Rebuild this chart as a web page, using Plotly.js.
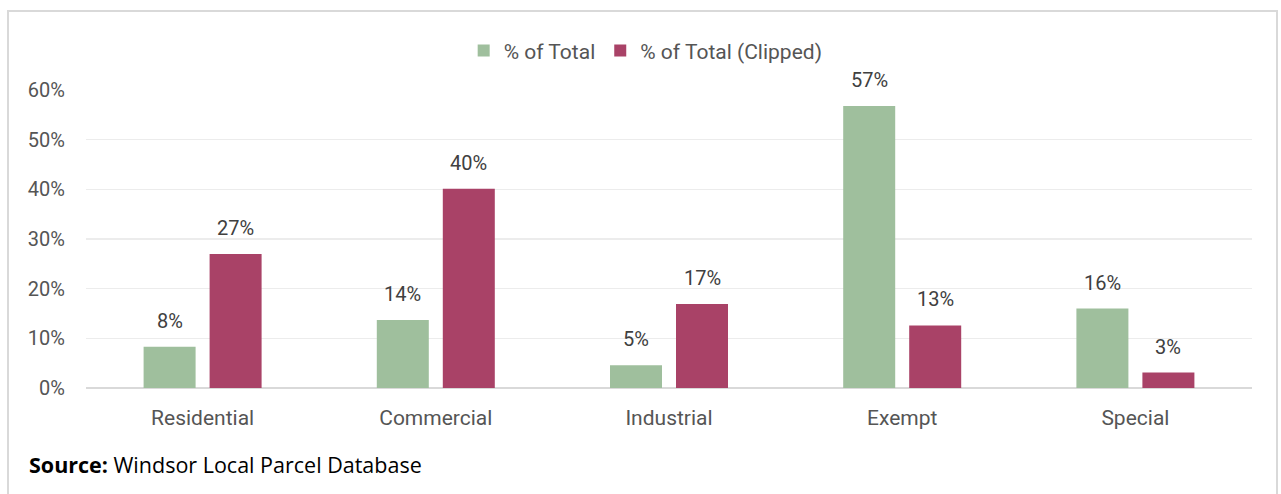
<!DOCTYPE html>
<html>
<head>
<meta charset="utf-8">
<script src="https://cdn.plot.ly/plotly-3.0.1.min.js"></script>
<style>
  html, body { margin: 0; padding: 0; background: #ffffff; }
  #wrap { position: relative; width: 1281px; height: 494px; overflow: hidden; }
  #frame { position: absolute; left: 7px; top: 10px; width: 1271px; height: 500px;
           border: 2px solid #d9d9d9; box-sizing: border-box; pointer-events: none; }
  #chart { position: absolute; left: 0; top: 0; width: 1281px; height: 494px; }
</style>
</head>
<body>
<div id="wrap">
  <div id="frame"></div>
  <div id="chart"></div>
</div>
<script>
// Parcel share by land-use class, in percent
const categories = ['Residential', 'Commercial', 'Industrial', 'Exempt', 'Special'];
const shareTotal = [8.3, 13.7, 4.6, 56.8, 16.0];
const shareClipped = [27.0, 40.1, 16.9, 12.6, 3.1];
const seriesNames = ['% of Total', '% of Total (Clipped)'];
const yTicks = [0, 10, 20, 30, 40, 50, 60];
const yTickText = ['0%', '10%', '20%', '30%', '40%', '50%', '60%'];

const GREEN = '#9fbf9d';
const MAROON = '#a94267';
const TEXT = '#555555';
const FONT = 'Roboto, "Open Sans", sans-serif';

const traces = [
  { type: 'bar', name: seriesNames[0], x: categories, y: shareTotal,
    marker: { color: GREEN }, hoverinfo: 'skip' },
  { type: 'bar', name: seriesNames[1], x: categories, y: shareClipped,
    marker: { color: MAROON }, hoverinfo: 'skip' }
];

// value labels above each bar, offset to sit over its bar within the group
const labelAnnotations = [];
[shareTotal, shareClipped].forEach((vals, s) => {
  vals.forEach((v, i) => {
    labelAnnotations.push({
      x: categories[i], y: v, xref: 'x', yref: 'y',
      text: Math.round(v) + '%', showarrow: false,
      xanchor: 'center', yanchor: 'bottom',
      xshift: s === 0 ? -33 : 33, yshift: 12,
      font: { family: FONT, size: 20, color: '#404040' }
    });
  });
});

const layout = {
  width: 1281, height: 494,
  margin: { l: 86, r: 29, t: 90, b: 106 },
  paper_bgcolor: 'rgba(0,0,0,0)',
  plot_bgcolor: 'rgba(0,0,0,0)',
  font: { family: FONT, color: TEXT, size: 20 },
  barmode: 'group',
  bargap: 0.434,
  bargroupgap: 0.212,
  showlegend: true,
  legend: {
    orientation: 'h', x: 0.48, xanchor: 'center', y: 1.131, yanchor: 'middle',
    font: { family: FONT, size: 21, color: TEXT },
    itemclick: false, itemdoubleclick: false, traceorder: 'normal'
  },
  xaxis: {
    type: 'category', showgrid: false, zeroline: false,
    showline: false, ticks: '',
    tickfont: { family: FONT, size: 21, color: TEXT },
    ticklabelstandoff: 15, fixedrange: true
  },
  yaxis: {
    range: [0, 60], tickmode: 'array', tickvals: yTicks, ticktext: yTickText,
    showgrid: true, gridcolor: '#ececec', gridwidth: 1.5,
    zeroline: true, zerolinecolor: '#d9d9d9', zerolinewidth: 2,
    showline: false, ticks: '',
    tickfont: { family: FONT, size: 20, color: TEXT },
    ticklabelstandoff: 20, fixedrange: true
  },
  annotations: labelAnnotations.concat([
    {
      xref: 'paper', yref: 'paper', x: -0.0506, y: -0.257,
      xanchor: 'left', yanchor: 'middle', showarrow: false, align: 'left',
      text: '<b>Source:</b> Windsor Local Parcel Database',
      font: { family: '"Open Sans", "Noto Sans", sans-serif', size: 21.5, color: '#000000' }
    }
  ])
};

Plotly.newPlot('chart', traces, layout, { displayModeBar: false, staticPlot: true });
</script>
</body>
</html>
